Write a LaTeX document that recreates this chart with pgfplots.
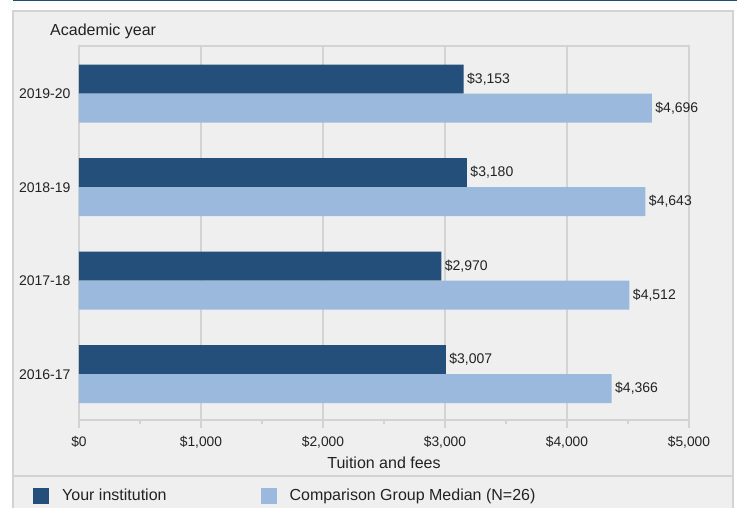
\documentclass[border=0pt]{standalone}
\usepackage{fontspec}
\setmainfont{Liberation Sans}
\usepackage{pgfplots}
\pgfplotsset{compat=1.18}
\definecolor{darkbar}{HTML}{254F7B}
\definecolor{lightbar}{HTML}{9BB9DD}
\definecolor{panel}{HTML}{EFEFEF}
\definecolor{frame}{HTML}{D3D3D3}
\definecolor{topline}{HTML}{1F4E79}
\definecolor{txt}{HTML}{222222}
\begin{document}
\begin{tikzpicture}
% picture pixel (x,y) sits at (x-79pt, 420pt-y)
\path[use as bounding box] (-79pt,-88pt) rectangle (658pt,420pt);
\fill[topline] (-66pt,420pt) rectangle (658pt,418.5pt);
\filldraw[fill=panel, draw=frame, line width=1.2pt] (-66pt,-95pt) rectangle (654pt,409pt);
\draw[frame, line width=1.2pt] (-66pt,-56pt) -- (654pt,-56pt);
\node[anchor=west, font=\fontsize{16}{19}\selectfont, text=txt, inner sep=0pt]
  at (-29pt,389pt) {Academic year};
\begin{axis}[
  scale only axis, width=610pt, height=374pt,
  xbar, bar width=29pt,
  xmin=0, xmax=5000, ymin=-0.49, ymax=3.51,
  axis background/.style={fill=panel},
  axis line style={frame, line width=1.5pt},
  xtick={0,1000,...,5000},
  xticklabels={\$0,{\$1,000},{\$2,000},{\$3,000},{\$4,000},{\$5,000}},
  minor xtick={500,1500,2500,3500,4500},
  xtick pos=lower,
  xmajorgrids, grid style={frame, line width=1.5pt},
  tick align=outside, major tick length=8pt, minor tick length=4pt,
  x tick style={frame, line width=1.5pt},
  ytick={0,1,2,3},
  yticklabels={2016-17,2017-18,2018-19,2019-20},
  y tick style={draw=none},
  tick label style={text=txt},
  xticklabel style={font=\fontsize{13.8}{16}\selectfont, yshift=-5pt},
  yticklabel style={font=\fontsize{14}{16}\selectfont, xshift=3pt},
  xlabel={Tuition and fees},
  xlabel style={font=\fontsize{16}{19}\selectfont, text=txt, yshift=-2pt},
  point meta=x,
  /pgf/number format/fixed, /pgf/number format/precision=0,
  /pgf/number format/1000 sep={,}, /pgf/number format/assume math mode=true,
  nodes near coords={\$\pgfmathprintnumber{\pgfplotspointmeta}},
  nodes near coords style={font=\fontsize{14}{16}\selectfont, text=txt},
  legend columns=2,
  legend cell align=left,
  legend style={at={(-0.0754,-0.2019)}, anchor=west, draw=none, fill=none,
    inner sep=0pt, font=\fontsize{16}{19}\selectfont, text=txt,
    nodes={inner sep=0pt},
    /tikz/every odd column/.append style={column sep=13pt},
    /tikz/every even column/.append style={column sep=94pt}},
  legend image code/.code={\fill[#1] (0pt,-8pt) rectangle (16pt,8pt);},
]
\addplot[fill=darkbar, draw=none, bar shift=14.5pt]
  coordinates {(3007,0) (2970,1) (3180,2) (3153,3)};
\addlegendentry{Your institution}
\addplot[fill=lightbar, draw=none, bar shift=-14.5pt]
  coordinates {(4366,0) (4512,1) (4643,2) (4696,3)};
\addlegendentry{Comparison Group Median (N=26)}
\end{axis}
\end{tikzpicture}
\end{document}
